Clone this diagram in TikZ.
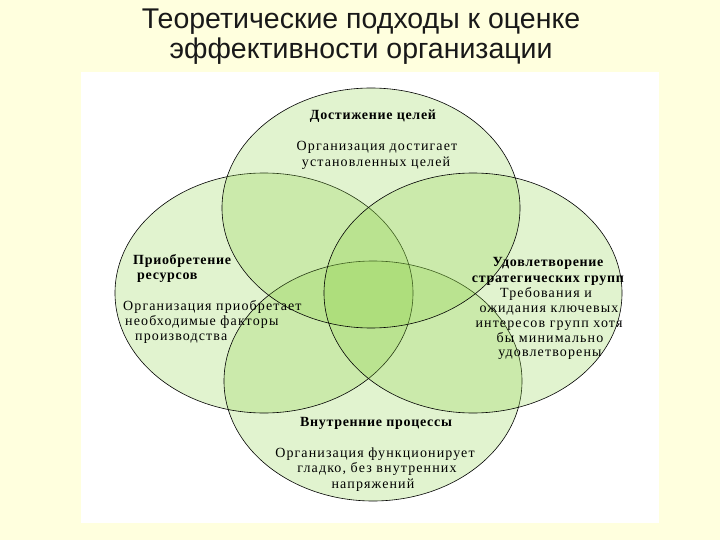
\documentclass[tikz,border=0pt]{standalone}
\usepackage{fontspec}
\setmainfont{Liberation Serif}
\newfontfamily\titlefont{Liberation Sans}
\definecolor{bgyellow}{RGB}{255,255,222}
\definecolor{vgreen}{RGB}{140,210,70}
\begin{document}
\begin{tikzpicture}[x=1pt,y=-1pt,
  venn/.style={fill=vgreen, fill opacity=0.26},
  rim/.style={draw=black, line width=0.6pt},
  head/.style={font=\fontsize{14}{16}\selectfont\bfseries\addfontfeature{LetterSpace=5}, inner sep=0pt, text height=8.5pt, text depth=2.5pt},
  body/.style={font=\fontsize{14}{16}\selectfont\addfontfeature{LetterSpace=8}, inner sep=0pt, text height=8.5pt, text depth=2.5pt},
  ttl/.style={font=\titlefont\fontsize{28.5}{30}\selectfont, text=black!90, inner sep=0pt}
]
\fill[bgyellow] (0,0) rectangle (720,540);
\useasboundingbox (0,0) rectangle (720,540);
\fill[white] (81,72) rectangle (659,523);

\node[ttl] (t1) at (361,22) {Теоретические подходы к оценке};
\node[ttl] (t2) at (361,51) {эффективности организации};

% lower layer
\path[venn] (264,293) ellipse [x radius=149, y radius=120];
\path[venn] (373,381) ellipse [x radius=149, y radius=120];
\path[rim] (264,293) ellipse [x radius=149, y radius=120];
\path[rim] (373,381) ellipse [x radius=149, y radius=120];
% upper layer
\path[venn] (371,208) ellipse [x radius=149, y radius=120];
\path[venn] (473,293) ellipse [x radius=149, y radius=120];
\path[rim] (371,208) ellipse [x radius=149, y radius=120];
\path[rim] (473,293) ellipse [x radius=149, y radius=120];

% top
\node[head] (h1) at (373,117) {Достижение целей};
\node[body] (b11) at (377,148) {Организация достигает};
\node[body] (b12) at (376,164) {установленных целей};
% left
\node[head, anchor=west] (h2a) at (133,261) {Приобретение};
\node[head, anchor=west] (h2b) at (137,276) {ресурсов};
\node[body, anchor=west] (b21) at (123,307) {Организация\ приобретает};
\node[body, anchor=west] (b22) at (125,322) {необходимые факторы};
\node[body, anchor=west] (b23) at (135,337) {производства};
% right
\node[head] (h3a) at (548,263) {Удовлетворение};
\node[head] (h3b) at (548,279) {стратегических групп};
\node[body] (b31) at (546,294) {Требования и};
\node[body] (b32) at (549,309.5) {ожидания ключевых};
\node[body] (b33) at (549,324.5) {интересов групп хотя};
\node[body] (b34) at (550,339) {бы минимально};
\node[body] (b35) at (550,353.5) {удовлетворены};
% bottom
\node[head] (h4) at (376,423) {Внутренние процессы};
\node[body] (b41) at (375,454) {Организация функционирует};
\node[body] (b42) at (377,469) {гладко, без внутренних};
\node[body] (b43) at (373,485) {напряжений};
\end{tikzpicture}
\end{document}
